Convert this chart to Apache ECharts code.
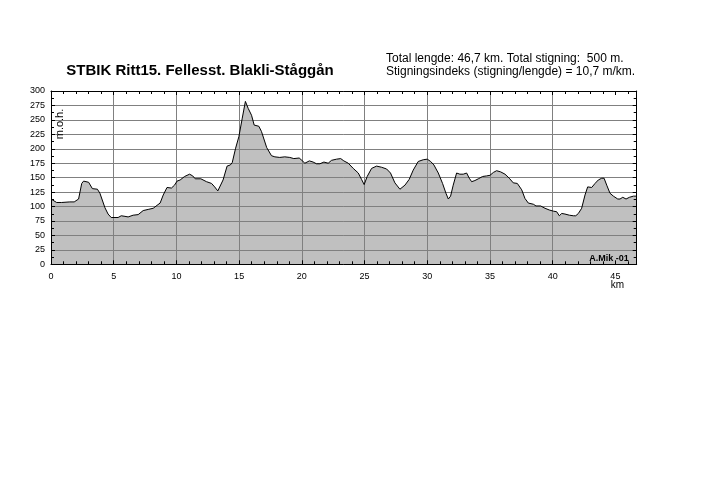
<!DOCTYPE html>
<html>
<head>
<meta charset="utf-8">
<script src="https://cdn.jsdelivr.net/npm/echarts@6/dist/echarts.min.js"></script>
<style>
html,body{margin:0;padding:0;background:#fff;}
#chart{width:713px;height:503px;}
</style>
</head>
<body>
<div id="chart"></div>
<script>
// distance along route (km)
var distKm = [0,0.15,0.45,0.85,1.5,1.85,2.2,2.25,2.45,2.6,3.0,3.15,3.3,3.7,3.9,4.3,4.55,4.8,5.35,5.6,5.9,6.15,6.55,6.95,7.35,7.75,8.15,8.45,8.7,8.95,9.25,9.6,9.85,10.05,10.3,10.65,11.05,11.3,11.5,11.95,12.4,12.8,13.05,13.3,13.45,13.72,14.04,14.3,14.45,14.72,14.98,15.25,15.5,15.72,15.99,16.2,16.57,16.78,17.2,17.58,17.85,18.24,18.64,19.04,19.36,19.79,20.0,20.24,20.6,20.9,21.17,21.44,21.76,22.1,22.37,22.77,23.1,23.35,23.7,24.1,24.5,24.76,24.97,25.21,25.56,25.96,26.36,26.76,27.07,27.42,27.82,28.22,28.56,28.88,29.28,29.68,30.0,30.27,30.53,30.88,31.22,31.49,31.68,31.86,32.07,32.34,32.6,32.87,33.14,33.35,33.54,33.8,34.07,34.41,34.73,35.0,35.27,35.53,35.85,36.2,36.54,36.86,37.18,37.53,37.79,38.06,38.46,38.67,39.04,39.39,39.73,40.05,40.32,40.53,40.72,40.98,41.33,41.65,41.84,42.05,42.31,42.58,42.79,43.11,43.38,43.64,43.91,44.1,44.31,44.57,44.84,45.19,45.37,45.59,45.85,46.12,46.44,46.7];
// elevation (m.o.h.)
var elevM = [113,113,107,107,108,108,113,116,140,144,142,140,131,130,123,98,87,81,81,84,83,82,85,86,93,95,97,102,106,120,133,132,137,144,146,152,156,153,148,148,143,140,134,127,126,146,170,172,176,201,221,253,282,270,258,241,239,230,202,188,186,185,186,185,183,184,180,175,179,177,174,174,177,175,180,182,183,179,175,166,158,147,138,152,166,170,168,165,158,141,130,137,147,163,178,181,182,178,172,158,140,123,113,118,137,158,156,156,158,149,143,145,148,152,153,154,159,162,160,156,149,141,140,129,114,106,104,101,101,97,94,92,91,84,88,87,85,84,84,88,97,120,134,133,140,146,149,149,137,123,118,113,113,116,113,116,118,118];
// vertical grid lines (km) and horizontal grid lines (m)
var gridKm = [5,10,15,20,25,30,35,40];
var gridM = [25,50,75,100,125,150,175,200,225,250,275];

var titleText = 'STBIK Ritt15. Fellesst. Blakli-Ståggån';
var infoLine1 = 'Total lengde: 46,7 km. Total stigning:  500 m.';
var infoLine2 = 'Stigningsindeks (stigning/lengde) = 10,7 m/km.';
var yAxisName = 'm.o.h.';
var xAxisName = 'km';
var signature = 'A.Mik -01';

var profile = distKm.map(function(d, i){ return [d, elevM[i]]; });
var gridMarks = gridKm.map(function(v){ return {xAxis: v}; })
  .concat(gridM.map(function(v){ return {yAxis: v}; }));

var tickFont = '"Liberation Sans Narrow","Liberation Sans",Arial,sans-serif';
var font = '"Liberation Sans",Arial,sans-serif';

var chart = echarts.init(document.getElementById('chart'), null, {renderer:'canvas'});

function xAx(pos, showLabel){
  return {
    type:'value', position:pos, min:0, max:46.7, interval:5, z:10,
    axisLine:{show:true, onZero:false, lineStyle:{color:'#000', width:1}},
    axisTick:{show:true, inside:true, length:4, lineStyle:{color:'#000'}},
    minorTick:{show:true, splitNumber:5, length:3, lineStyle:{color:'#000'}},
    axisLabel:{show:showLabel, margin:8, fontSize:9, fontFamily:tickFont, color:'#000', showMaxLabel:false},
    splitLine:{show:false}
  };
}
function yAx(pos, showLabel){
  return {
    type:'value', position:pos, min:0, max:300, interval:25, z:10,
    axisLine:{show:true, onZero:false, lineStyle:{color:'#000', width:1}},
    axisTick:{show:true, inside:true, length:4, lineStyle:{color:'#000'}},
    minorTick:{show:true, splitNumber:2, length:3, lineStyle:{color:'#000'}},
    axisLabel:{show:showLabel, margin:6, fontSize:9, fontFamily:tickFont, color:'#000'},
    splitLine:{show:false}
  };
}

chart.setOption({
  animation:false,
  backgroundColor:'#fff',
  grid:{left:51, top:91, right:76.3, bottom:238.7, containLabel:false},
  xAxis:[xAx('bottom', true), xAx('top', false)],
  yAxis:[yAx('left', true), yAx('right', false)],
  series:[{
    type:'line', data:profile, showSymbol:false, z:2,
    lineStyle:{width:0, opacity:0},
    areaStyle:{color:'#c0c0c0', opacity:1},
    markLine:{silent:true, symbol:['none','none'], z:5, animation:false,
      label:{show:false}, lineStyle:{color:'#808080', width:1, type:'solid'},
      emphasis:{disabled:true}, data:gridMarks}
  },{
    type:'line', data:profile, showSymbol:false, z:6,
    lineStyle:{color:'#000', width:1}
  }],
  graphic:[
    {type:'text', z:20, style:{x:200, y:71, text:titleText, font:'bold 15px '+font, fill:'#000', align:'center', verticalAlign:'middle'}},
    {type:'text', z:20, style:{x:386, y:58.5, text:infoLine1, font:'12px '+font, fill:'#000', align:'left', verticalAlign:'middle'}},
    {type:'text', z:20, style:{x:386, y:72, text:infoLine2, font:'12px '+font, fill:'#000', align:'left', verticalAlign:'middle'}},
    {type:'text', z:20, x:59.5, y:124, rotation:Math.PI/2, style:{x:0, y:0, text:yAxisName, font:'11px '+font, fill:'#000', align:'center', verticalAlign:'middle'}},
    {type:'text', z:20, style:{x:609, y:258.5, text:signature, font:'bold 9px '+font, fill:'#000', align:'center', verticalAlign:'middle'}},
    {type:'text', z:20, style:{x:617.5, y:285, text:xAxisName, font:'10px '+font, fill:'#000', align:'center', verticalAlign:'middle'}}
  ]
});
</script>
</body>
</html>
